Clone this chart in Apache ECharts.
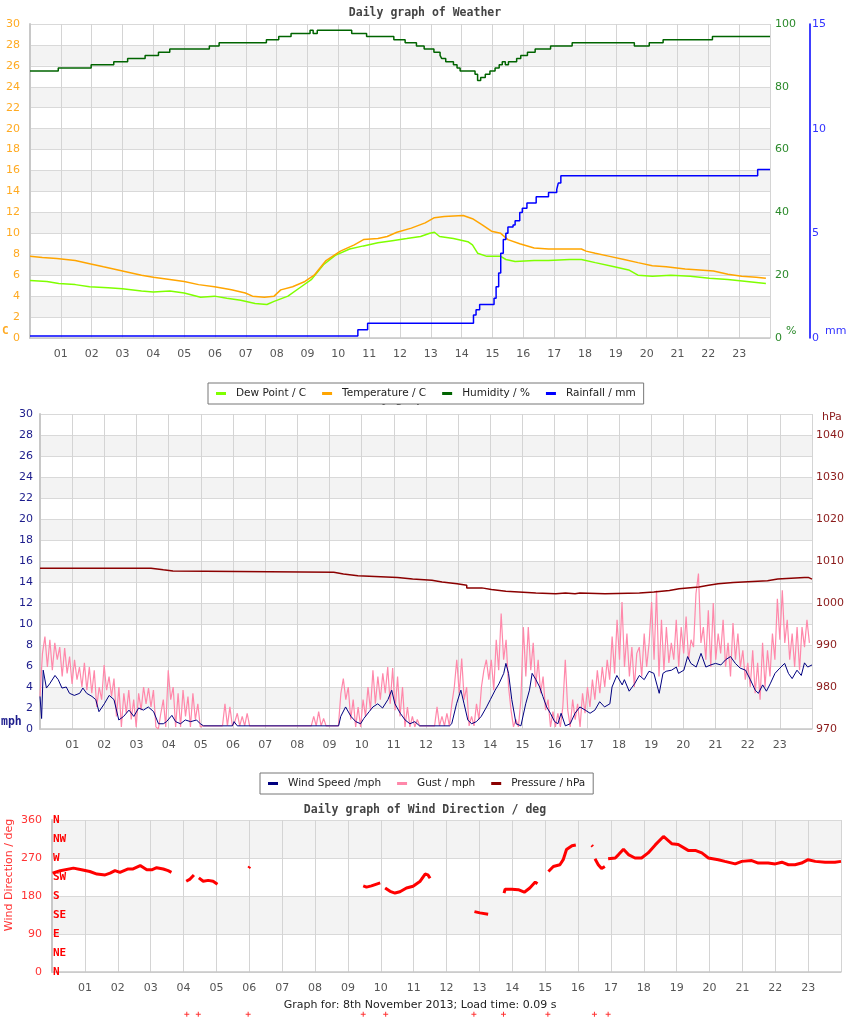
<!DOCTYPE html>
<html><head><meta charset="utf-8">
<script src="https://cdn.jsdelivr.net/npm/echarts@6/dist/echarts.min.js"></script>
<style>html,body{margin:0;padding:0;background:#fff}#c{width:850px;height:1017px}</style>
</head><body><div id="c"></div>
<script>
// ---------- tick labels ----------
const hourLabels = ['01','02','03','04','05','06','07','08','09','10','11','12','13','14','15','16','17','18','19','20','21','22','23'];
const compassLabels = ['N','NE','E','SE','S','SW','W','NW','N'];

// ---------- panel 1: [minute of day, value] ----------
const temperature = [[0,7.8],[24,7.7],[52,7.6],[88,7.4],[116,7.1],[143,6.8],[180,6.4],[217,6.0],[240,5.8],[272,5.6],[300,5.4],[328,5.1],[359,4.9],[392,4.6],[419,4.3],[433,4.0],[456,3.9],[475,4.0],[488,4.6],[511,4.9],[535,5.4],[553,6.0],[576,7.4],[604,8.3],[631,8.9],[649,9.4],[677,9.5],[695,9.7],[714,10.1],[742,10.5],[769,11.0],[787,11.5],[806,11.6],[843,11.7],[861,11.4],[880,10.8],[898,10.2],[916,10.0],[930,9.4],[953,9.0],[981,8.6],[1009,8.5],[1036,8.5],[1073,8.5],[1082,8.3],[1100,8.1],[1128,7.8],[1156,7.5],[1183,7.2],[1211,6.9],[1238,6.8],[1275,6.6],[1303,6.5],[1330,6.4],[1358,6.1],[1385,5.9],[1413,5.8],[1432,5.7]];
const dewPoint = [[0,5.5],[33,5.4],[56,5.2],[88,5.1],[116,4.9],[152,4.8],[180,4.7],[217,4.5],[240,4.4],[272,4.5],[300,4.3],[332,3.9],[359,4.0],[383,3.8],[410,3.6],[438,3.3],[461,3.2],[475,3.5],[502,4.0],[525,4.8],[548,5.6],[571,7.0],[594,7.9],[622,8.5],[649,8.8],[677,9.1],[705,9.3],[733,9.5],[760,9.7],[778,10.0],[787,10.1],[797,9.7],[824,9.5],[852,9.2],[861,8.9],[871,8.1],[889,7.8],[916,7.8],[926,7.5],[944,7.3],[981,7.4],[1009,7.4],[1050,7.5],[1073,7.5],[1100,7.2],[1137,6.8],[1165,6.5],[1183,6.0],[1211,5.9],[1247,6.0],[1285,5.9],[1322,5.7],[1358,5.6],[1395,5.4],[1432,5.2]];
const humidity = [[0,85],[55,86],[119,87],[163,88],[190,89],[224,90],[250,91],[272,92],[349,93],[368,94],[460,95],[484,96],[508,97],[545,98],[551,97],[559,98],[626,97],[655,96],[708,95],[730,94],[752,93],[767,92],[786,91],[798,90],[801,89],[809,88],[824,87],[831,86],[837,85],[866,84],[871,82],[877,83],[886,84],[895,85],[905,86],[913,87],[919,88],[925,87],[931,88],[947,89],[955,90],[968,91],[983,92],[1013,93],[1055,94],[1176,93],[1205,94],[1232,95],[1328,96],[1440,96]];
const rainfall = [[0,0.1],[638,0.4],[657,0.7],[863,1.1],[868,1.35],[875,1.6],[903,1.9],[907,2.45],[912,3.1],[916,4.05],[921,4.7],[926,5.0],[930,5.3],[940,5.4],[944,5.6],[953,6.0],[958,6.2],[967,6.45],[985,6.75],[1009,6.95],[1025,7.1],[1028,7.4],[1033,7.75],[1416,8.05],[1440,8.05]];

// ---------- panel 2 ----------
const GUST_STEP_MIN = 4.6; // sampling interval of the gust readings (minutes)
const gust = [
3.1,7.2,8.8,5.9,8.5,5.6,8.2,6.6,7.8,5.0,
7.7,5.3,6.9,4.3,6.6,4.7,5.9,4.0,6.3,3.7,
5.9,3.4,5.6,2.1,4.0,2.8,6.1,3.7,5.0,3.1,
4.8,1.2,4.0,0.2,3.4,1.5,3.7,0.9,2.8,0.2,
3.4,1.8,4.0,2.4,3.9,2.1,3.7,0.2,0,1.5,
2.8,0.2,5.6,2.8,4.0,0.2,3.4,0.2,3.7,1.2,
3.1,0.2,3.4,0.9,2.4,0.2,0.3,0.3,0.3,0.3,
0.3,0.3,0.3,0.3,0.3,2.4,0.3,2.1,0.3,0.7,
1.5,0.3,1.2,0.3,1.5,0.3,0.3,0.3,0.3,0.3,
0.3,0.3,0.3,0.3,0.3,0.3,0.3,0.3,0.3,0.3,
0.3,0.3,0.3,0.3,0.3,0.3,0.3,0.3,0.3,0.3,
0.3,1.2,0.3,1.65,0.3,1.0,0.3,0.3,0.3,0.3,
0.3,0.3,3.4,4.8,2.8,4.0,0.9,2.8,0.2,2.1,
0.2,2.8,1.2,4.0,1.8,5.6,2.4,5.0,2.8,5.3,
3.4,5.9,2.4,5.8,1.8,5.0,1.2,4.0,0.2,2.1,
0.2,1.2,0.2,0.9,0.3,0.3,0.3,0.3,0.3,0.3,
0.3,2.1,0.3,1.2,0.3,1.5,0.3,2.4,4.0,6.6,
3.4,6.7,2.8,4.0,0.3,1.2,0.3,2.4,0.9,4.0,
5.6,6.6,4.7,6.6,3.7,8.5,5.6,11.0,6.6,8.5,
4.0,1.8,0.2,0.9,0.2,2.8,9.7,5.0,9.7,5.6,
8.2,4.0,6.6,3.4,5.0,1.8,2.8,0.2,1.65,0.2,
1.5,0.2,2.1,6.6,1.8,0.2,2.8,0.9,2.4,0.2,
3.4,1.5,4.0,2.1,4.7,2.8,5.6,3.4,5.9,4.0,
6.6,4.7,8.8,5.3,10.4,6.6,12.1,5.9,9.1,5.0,
7.8,4.0,7.2,7.8,5.0,9.1,5.9,8.2,12.1,6.6,
13.2,5.0,10.4,5.6,9.7,6.3,8.2,6.6,10.4,5.9,
9.7,7.2,10.7,6.6,8.5,7.8,12.9,14.8,8.2,9.7,
6.6,11.3,5.9,12.0,6.6,9.1,7.2,10.4,5.9,8.2,
5.0,10.1,6.6,9.1,5.9,7.5,4.7,6.3,4.0,7.5,
3.4,6.3,2.8,8.2,4.0,7.5,5.0,9.1,6.6,12.4,
8.5,13.2,8.2,10.4,6.6,9.1,5.9,9.7,5.6,9.7,
7.8,10.4,8.2];
const windSpeed = [[0,3.1],[3,1.0],[6,5.6],[12,3.9],[18,4.3],[28,5.1],[34,4.7],[41,3.9],[49,4.0],[55,3.4],[64,3.2],[74,3.4],[80,3.9],[87,3.4],[97,3.1],[104,2.8],[110,1.65],[120,2.4],[129,3.2],[138,2.8],[147,0.86],[156,1.2],[166,1.8],[175,1.2],[184,2.0],[193,1.8],[202,2.1],[212,1.65],[221,0.5],[230,0.5],[236,0.7],[246,1.3],[253,0.7],[262,0.5],[271,0.86],[281,0.7],[292,0.86],[299,0.5],[305,0.3],[340,0.3],[343,0.4],[350,0.3],[359,0.3],[362,0.7],[368,0.3],[557,0.3],[561,1.2],[570,2.1],[580,1.2],[589,0.7],[598,0.5],[604,1.0],[614,1.65],[621,2.1],[630,2.4],[639,2.0],[649,2.8],[656,3.7],[662,2.4],[672,1.5],[681,0.86],[690,0.5],[699,0.7],[708,0.3],[764,0.3],[768,0.5],[777,2.4],[785,3.7],[791,2.4],[798,0.86],[805,0.5],[814,0.7],[823,1.2],[833,2.1],[840,2.8],[849,3.7],[856,4.3],[865,5.3],[869,6.25],[874,5.3],[880,2.8],[888,0.5],[897,0.3],[906,2.4],[913,3.7],[918,5.3],[925,4.7],[932,4.0],[938,3.1],[945,2.1],[952,1.5],[960,0.7],[966,0.5],[972,1.5],[980,0.3],[989,0.5],[998,1.5],[1007,2.1],[1017,1.8],[1026,1.5],[1035,1.8],[1044,2.6],[1053,2.1],[1063,2.4],[1067,4.0],[1076,5.1],[1086,4.2],[1090,4.7],[1099,3.6],[1109,4.3],[1118,5.1],[1127,4.7],[1136,5.5],[1145,5.3],[1155,3.4],[1162,5.3],[1168,5.5],[1178,5.6],[1187,5.9],[1191,5.3],[1201,5.6],[1208,6.9],[1214,6.25],[1224,5.9],[1233,7.2],[1242,5.9],[1251,6.1],[1260,6.25],[1270,6.1],[1279,6.6],[1288,6.9],[1297,6.25],[1306,5.8],[1316,5.6],[1325,4.7],[1334,3.7],[1340,3.4],[1348,4.2],[1355,3.6],[1362,4.3],[1371,5.3],[1380,5.8],[1389,6.25],[1396,5.3],[1403,4.8],[1412,5.6],[1420,5.1],[1426,6.3],[1432,5.9],[1440,6.1]];
const pressure = [[0,1008.3],[207,1007.9],[230,1007.6],[248,1007.3],[548,1006.9],[566,1006.5],[593,1006.1],[667,1005.7],[695,1005.4],[731,1005.0],[750,1004.6],[778,1004.2],[796,1003.6],[824,1003.2],[842,1002.8],[869,1002.4],[925,1002.2],[962,1002.4],[980,1002.2],[998,1002.4],[1007,1002.2],[1054,1002.4],[1118,1002.6],[1145,1003.0],[1174,1003.4],[1192,1003.8],[1229,1004.2],[1247,1004.6],[1265,1004.9],[1293,1005.3],[1357,1005.7],[1376,1006.1],[1426,1006.1],[1433,1005.7],[1440,1005.7]];

// ---------- panel 3: wind direction, one list per unbroken run ----------
const windDirRuns = [
 [[1,234],[15,240],[39,246],[54,242],[69,238],[82,232],[97,230],[106,234],[115,240],[124,236],[139,244],[148,244],[161,252],[173,242],[182,242],[191,247],[203,244],[212,240],[218,236]],
 [[245,215],[252,220],[259,230]],
 [[268,223],[276,215],[285,217],[294,215],[302,208]],
 [[359,246],[361,250]],
 [[568,204],[574,201],[583,204],[599,211]],
 [[608,199],[617,191],[626,187],[635,190],[647,199],[659,203],[672,215],[681,232],[686,230],[690,222]],
 [[771,143],[781,140],[796,137]],
 [[825,187],[827,196],[839,196],[851,195],[862,189],[872,199],[882,213],[886,209]],
 [[906,238],[915,250],[927,254],[933,266],[939,290],[949,299],[956,301]],
 [[985,300],[987,297]],
 [[991,268],[997,254],[1003,245],[1009,250]],
 [[1015,268],[1028,270],[1034,278],[1043,291],[1052,278],[1064,270],[1076,270],[1088,282],[1101,301],[1116,321],[1131,304],[1143,302],[1161,288],[1174,288],[1186,282],[1198,270],[1216,266],[1228,262],[1247,256],[1259,262],[1277,264],[1289,258],[1307,258],[1320,256],[1332,260],[1344,254],[1356,254],[1368,258],[1380,266],[1393,262],[1411,260],[1429,260],[1440,262]]
];
const windDirStray = [[246,-100],[267,-100],[358,-100],[568,-100],[609,-100],[770,-100],[824,-100],[905,-100],[990,-100],[1015,-100]];

// ---------- build ----------
const gustData = gust.map((v, i) => [i * GUST_STEP_MIN, v]);
const windDirData = [];
windDirRuns.forEach((run, i) => {
  if (i > 0) windDirData.push([run[0][0] - 1, '-']);
  run.forEach(p => windDirData.push(p));
});

const hourFmt = v => (v > 0 && v < 1440) ? hourLabels[v / 60 - 1] : '';
const SANS = 'DejaVu Sans';
const MONO = 'DejaVu Sans Mono';
const bands = ['#ffffff', '#f3f3f3'];

function xAx(gi) {
  return {
    type: 'value', gridIndex: gi, min: 0, max: 1440, interval: 60,
    axisLine: { show: true, lineStyle: { color: '#c8c8c8', width: 1.5 } },
    axisTick: { show: false },
    axisLabel: { formatter: hourFmt, color: '#555', fontSize: 11, fontFamily: SANS, margin: 11 },
    splitLine: { show: true, lineStyle: { color: '#d4d4d4', width: 1 } }
  };
}
function leftAx(gi, min, max, interval, color, margin) {
  return {
    type: 'value', gridIndex: gi, position: 'left', min, max, interval,
    axisLine: { show: true, lineStyle: { color: '#c8c8c8', width: 2 } },
    axisTick: { show: false },
    axisLabel: { color, fontSize: 11, fontFamily: SANS, margin },
    splitLine: { show: true, lineStyle: { color: '#d9d9d9', width: 1 } },
    splitArea: { show: true, areaStyle: { color: bands } }
  };
}
const txtStyle = (color, size, bold, family) => ({ fill: color, fontSize: size, fontWeight: bold ? 'bold' : 'normal', fontFamily: family || SANS });

const chart = echarts.init(document.getElementById('c'), null, { renderer: 'canvas' });
chart.setOption({
  animation: false,
  backgroundColor: '#ffffff',
  title: [
    { text: 'Daily graph of Weather', left: 'center', top: 7, padding: 0, textStyle: { fontFamily: MONO, fontWeight: 'bold', fontSize: 11.5, color: '#444' } },
    { text: 'Daily graph of Wind', left: 354, top: 393, padding: 0, z: 1, textStyle: { fontFamily: MONO, fontWeight: 'bold', fontSize: 11.5, color: '#444' } },
    { text: 'Daily graph of Wind Direction / deg', left: 'center', top: 804, padding: 0, textStyle: { fontFamily: MONO, fontWeight: 'bold', fontSize: 11.5, color: '#444' } }
  ],
  legend: [
    { data: ['Dew Point / C', 'Temperature / C', 'Humidity / %', 'Rainfall / mm'], left: 208, top: 383, z: 20,
      orient: 'horizontal', padding: [5, 8], itemGap: 16, itemWidth: 10, itemHeight: 3, icon: 'rect',
      backgroundColor: '#ffffff', borderColor: '#777', borderWidth: 1, selectedMode: false,
      textStyle: { fontSize: 10.5, fontFamily: SANS, color: '#222', padding: [0, 0, 0, 5] } },
    { data: ['Wind Speed /mph', 'Gust / mph', 'Pressure / hPa'], left: 260, top: 773, z: 20,
      orient: 'horizontal', padding: [5, 8], itemGap: 16, itemWidth: 10, itemHeight: 3, icon: 'rect',
      backgroundColor: '#ffffff', borderColor: '#777', borderWidth: 1, selectedMode: false,
      textStyle: { fontSize: 10.5, fontFamily: SANS, color: '#222', padding: [0, 0, 0, 5] } }
  ],
  grid: [
    { left: 30, top: 24, width: 740, height: 314, outerBoundsMode: 'none' },
    { left: 40, top: 414, width: 772, height: 315, outerBoundsMode: 'none' },
    { left: 52, top: 820, width: 789, height: 152, outerBoundsMode: 'none' }
  ],
  xAxis: [xAx(0), xAx(1), xAx(2)],
  yAxis: [
    leftAx(0, 0, 30, 2, '#ffaa22', 10),
    { type: 'value', gridIndex: 0, position: 'right', min: 0, max: 100, interval: 20,
      axisLine: { show: false }, axisTick: { show: false }, splitLine: { show: false },
      axisLabel: { color: '#2b8a2b', fontSize: 11, fontFamily: SANS, margin: 5 } },
    { type: 'value', gridIndex: 0, position: 'right', offset: 40, min: 0, max: 15, interval: 5,
      axisLine: { show: true, lineStyle: { color: '#0000ff', width: 1.5 } }, axisTick: { show: false }, splitLine: { show: false },
      axisLabel: { color: '#3333ff', fontSize: 11, fontFamily: SANS, margin: 2 } },
    leftAx(1, 0, 30, 2, '#1c1c8c', 7),
    { type: 'value', gridIndex: 1, position: 'right', min: 970, max: 1045, interval: 10,
      axisLine: { show: false }, axisTick: { show: false }, splitLine: { show: false },
      axisLabel: { color: '#8b1a1a', fontSize: 11, fontFamily: SANS, margin: 4, showMaxLabel: false, formatter: v => String(v) } },
    leftAx(2, 0, 360, 90, '#ff3333', 10),
    { type: 'value', gridIndex: 2, position: 'left', min: 0, max: 360, interval: 45,
      axisLine: { show: false }, axisTick: { show: false }, splitLine: { show: false },
      axisLabel: { inside: true, margin: 1, color: '#ff0000', fontSize: 11, fontWeight: 'bold', fontFamily: MONO,
        padding: [0, 0, 4, 0], formatter: v => compassLabels[Math.round(v / 45)] } }
  ],
  series: [
    { name: 'Dew Point / C', type: 'line', xAxisIndex: 0, yAxisIndex: 0, data: dewPoint, showSymbol: false, color: '#7fff00', lineStyle: { width: 1.5, color: '#7fff00' } },
    { name: 'Temperature / C', type: 'line', xAxisIndex: 0, yAxisIndex: 0, data: temperature, showSymbol: false, color: '#ffa500', lineStyle: { width: 1.5, color: '#ffa500' } },
    { name: 'Humidity / %', type: 'line', xAxisIndex: 0, yAxisIndex: 1, data: humidity, step: 'end', showSymbol: false, color: '#006400', lineStyle: { width: 1.5, color: '#006400' } },
    { name: 'Rainfall / mm', type: 'line', xAxisIndex: 0, yAxisIndex: 2, data: rainfall, step: 'end', showSymbol: false, color: '#0000ff', lineStyle: { width: 1.5, color: '#0000ff' } },
    { name: 'Gust / mph', type: 'line', xAxisIndex: 1, yAxisIndex: 3, data: gustData, showSymbol: false, color: '#ff88aa', lineStyle: { width: 1.2, color: '#ff88aa' } },
    { name: 'Wind Speed /mph', type: 'line', xAxisIndex: 1, yAxisIndex: 3, data: windSpeed, showSymbol: false, color: '#000080', lineStyle: { width: 1, color: '#000080' } },
    { name: 'Pressure / hPa', type: 'line', xAxisIndex: 1, yAxisIndex: 4, data: pressure, step: 'end', showSymbol: false, color: '#8b0000', lineStyle: { width: 1.5, color: '#8b0000' } },
    { name: 'Wind Direction', type: 'line', xAxisIndex: 2, yAxisIndex: 5, data: windDirData, connectNulls: false, showSymbol: false, color: '#ff0000', lineStyle: { width: 3, color: '#ff0000' } },
    { name: 'Wind Direction stray', type: 'scatter', xAxisIndex: 2, yAxisIndex: 5, data: windDirStray, clip: false,
      symbol: 'path://M2,0h1v2h2v1h-2v2h-1v-2h-2v-1h2z', symbolSize: 5, itemStyle: { color: '#ff0000' } }
  ],
  graphic: [
    { type: 'text', left: 2, top: 326, style: Object.assign({ text: 'C' }, txtStyle('#ffaa22', 11, true, MONO)) },
    { type: 'text', left: 786, top: 326, style: Object.assign({ text: '%' }, txtStyle('#2b8a2b', 11)) },
    { type: 'text', left: 825, top: 326, style: Object.assign({ text: 'mm' }, txtStyle('#3333ff', 11)) },
    { type: 'text', left: 822, top: 412, style: Object.assign({ text: 'hPa' }, txtStyle('#8b1a1a', 11)) },
    { type: 'text', left: 1, top: 716, style: Object.assign({ text: 'mph' }, txtStyle('#1c1c8c', 11.5, true, MONO)) },
    { type: 'text', x: 9, y: 875, rotation: Math.PI / 2, style: Object.assign({ text: 'Wind Direction / deg', textAlign: 'center', textVerticalAlign: 'middle' }, txtStyle('#ff3333', 11)) },
    { type: 'text', x: 420, y: 1005, style: Object.assign({ text: 'Graph for: 8th November 2013; Load time: 0.09 s', textAlign: 'center', textVerticalAlign: 'middle' }, txtStyle('#222', 11)) }
  ]
});
</script></body></html>
